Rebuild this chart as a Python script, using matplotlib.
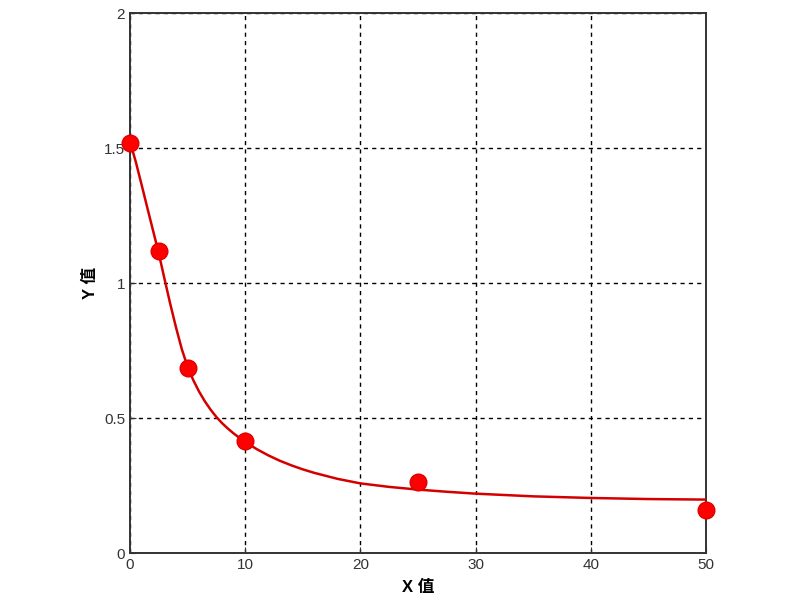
import matplotlib
matplotlib.use("Agg")
import matplotlib.pyplot as plt

# measured points
x_pts = [0, 2.5, 5, 10, 25, 50]
y_pts = [1.52, 1.12, 0.685, 0.415, 0.265, 0.16]

# fitted curve
x_fit = [0, 0.5, 1, 1.5, 2, 2.5, 3, 3.5, 4, 4.5, 5, 5.5, 6, 6.5, 7, 7.5, 8, 8.5, 9, 9.5, 10,
         11, 12, 13, 14, 15, 16, 18, 20, 22.5, 25, 27.5, 30, 35, 40, 45, 50]
y_fit = [1.525, 1.45, 1.366, 1.28, 1.195, 1.11, 1.015, 0.922, 0.835, 0.755, 0.69, 0.64,
         0.598, 0.562, 0.531, 0.504, 0.481, 0.461, 0.443, 0.427, 0.412,
         0.385, 0.362, 0.342, 0.325, 0.31, 0.297, 0.275, 0.258, 0.245, 0.235, 0.227,
         0.22, 0.21, 0.204, 0.2, 0.198]

x_ticks = [0, 10, 20, 30, 40, 50]
y_ticks = [0, 0.5, 1, 1.5, 2]
y_tick_labels = ["0", "0.5", "1", "1.5", "2"]

fonts = ["Liberation Sans", "Noto Sans CJK SC", "DejaVu Sans"]
plt.rcParams["font.family"] = fonts

fig = plt.figure(figsize=(8, 6), dpi=100)
ax = fig.add_axes([0.1625, 0.0783, 0.72, 0.8995])

ax.plot(x_fit, y_fit, "-", color="#d40000", linewidth=1.8, zorder=3)
ax.plot(x_pts, y_pts, "o", color="#ff0000", markersize=12, markeredgecolor="#e00000",
        zorder=4, clip_on=False)

ax.set_xlim(0, 50)
ax.set_ylim(0, 2)
ax.set_xticks(x_ticks)
ax.set_yticks(y_ticks)
ax.set_yticklabels(y_tick_labels)
ax.grid(True, color="black", linestyle=(0, (3, 3)), linewidth=1.0)
ax.tick_params(direction="in", length=4, labelsize=11, colors="#333333")
for s in ax.spines.values():
    s.set_linewidth(1.4)
    s.set_color("#333333")

ax.set_xlabel("X 值", fontsize=12, fontweight="bold", family=fonts, labelpad=6)
ax.set_ylabel("Y 值", fontsize=12, fontweight="bold", family=fonts, labelpad=4)

fig.savefig("out.png", dpi=100)
